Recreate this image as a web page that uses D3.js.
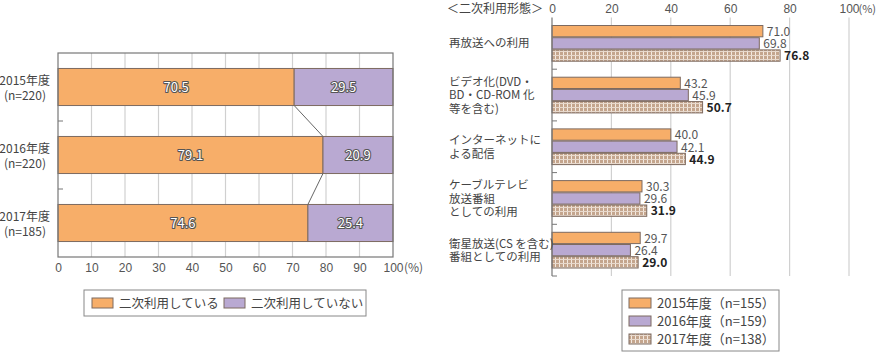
<!DOCTYPE html>
<html>
<head>
<meta charset="utf-8">
<script src="https://cdn.jsdelivr.net/npm/d3@7"></script>
<style>
  body { margin: 0; background: #fff; }
  svg { font-family: "Noto Sans CJK JP", "Noto Sans", sans-serif; }
  .tick text { fill: #555; font-size: 12px; }
</style>
</head>
<body>
<svg id="chart" width="877" height="352"></svg>
<script>
// left chart data
const years = ["2015年度", "2016年度", "2017年度"];
const yearN = ["(n=220)", "(n=220)", "(n=185)"];
const usedVals = [70.5, 79.1, 74.6];
const notUsedVals = [29.5, 20.9, 25.4];
const leftLegend = ["二次利用している", "二次利用していない"];

// right chart data
const usages = [
    ["再放送への利用"],
    ["ビデオ化(DVD・", "BD・CD-ROM 化", "等を含む)"],
    ["インターネットに", "よる配信"],
    ["ケーブルテレビ", "放送番組", "としての利用"],
    ["衛星放送(CS を含む)", "番組としての利用"]
];
const vals2015 = [71.0, 43.2, 40.0, 30.3, 29.7];
const vals2016 = [69.8, 45.9, 42.1, 29.6, 26.4];
const vals2017 = [76.8, 50.7, 44.9, 31.9, 29.0];
const rightLegend = ["2015年度（n=155）", "2016年度（n=159）", "2017年度（n=138）"];

const orange = "#f7ae69", purple = "#b9a9d2", barStroke = "#7d6a60";
const svg = d3.select("#chart");

// pattern for 2017 bars
let defs = svg.append("defs");
let pat = defs.append("pattern")
    .attr("id", "check").attr("patternUnits", "userSpaceOnUse")
    .attr("width", 4).attr("height", 4);
pat.append("rect").attr("width", 4).attr("height", 4).attr("fill", "#c4a58d");
pat.append("rect").attr("x", 3).attr("width", 1).attr("height", 4).attr("fill", "#f3e9e0");
pat.append("rect").attr("y", 3).attr("width", 4).attr("height", 1).attr("fill", "#e8d9cc");

/* ---------- left chart ---------- */
let L = {x0: 58, x1: 393, y0: 53, y1: 257};
let xL = d3.scaleLinear().domain([0, 100]).range([L.x0, L.x1]);
let yL = d3.scaleBand().domain(years).range([L.y0, L.y1]).padding(0);
let barH = yL.bandwidth() * 0.545;
let barY = d => yL(d) + (yL.bandwidth() - barH) / 2;

let left = svg.append("g").attr("id", "left_chart");

// vertical grid
left.append("g").selectAll("line")
    .data(d3.range(10, 100, 10))
    .join("line")
    .attr("x1", d => xL(d)).attr("x2", d => xL(d))
    .attr("y1", L.y0).attr("y2", L.y1)
    .attr("stroke", "#d0d0d0").attr("stroke-width", 1.2);

// bars
let stackData = years.map((y, i) => ({year: y, used: usedVals[i], not: notUsedVals[i]}));
left.append("g").selectAll("rect")
    .data(stackData)
    .join("rect")
    .attr("x", xL(0)).attr("y", d => barY(d.year))
    .attr("width", d => xL(d.used) - xL(0)).attr("height", barH)
    .attr("fill", orange).attr("stroke", barStroke).attr("stroke-width", 1);
left.append("g").selectAll("rect")
    .data(stackData)
    .join("rect")
    .attr("x", d => xL(d.used)).attr("y", d => barY(d.year))
    .attr("width", d => xL(d.used + d.not) - xL(d.used)).attr("height", barH)
    .attr("fill", purple).attr("stroke", barStroke).attr("stroke-width", 1);

// connector lines between bars
left.append("g").selectAll("line")
    .data(d3.range(stackData.length - 1))
    .join("line")
    .attr("x1", i => xL(stackData[i].used)).attr("y1", i => barY(years[i]) + barH)
    .attr("x2", i => xL(stackData[i + 1].used)).attr("y2", i => barY(years[i + 1]))
    .attr("stroke", "#666").attr("stroke-width", 1);

// labels inside bars (white with dark halo)
function haloText(sel) {
    sel.attr("fill", "#fff").attr("stroke", "#555").attr("stroke-width", 2.2)
        .attr("paint-order", "stroke").attr("stroke-linejoin", "round")
        .attr("font-size", 13).attr("text-anchor", "middle").attr("dy", "0.36em");
}
left.append("g").selectAll("text")
    .data(stackData)
    .join("text")
    .attr("x", d => xL(d.used / 2)).attr("y", d => barY(d.year) + barH / 2)
    .text(d => d.used.toFixed(1)).call(haloText);
left.append("g").selectAll("text")
    .data(stackData)
    .join("text")
    .attr("x", d => xL(d.used + d.not / 2)).attr("y", d => barY(d.year) + barH / 2)
    .text(d => d.not.toFixed(1)).call(haloText);

// frame
left.append("rect")
    .attr("x", L.x0).attr("y", L.y0).attr("width", L.x1 - L.x0).attr("height", L.y1 - L.y0)
    .attr("fill", "none").attr("stroke", "#777").attr("stroke-width", 1.2);

// category boundary ticks
left.append("g").selectAll("line")
    .data(years.slice(1))
    .join("line")
    .attr("x1", L.x0).attr("x2", L.x0 + 5)
    .attr("y1", d => yL(d)).attr("y2", d => yL(d))
    .attr("stroke", "#777");

// x axis
let axL = left.append("g").attr("transform", `translate(0,${L.y1})`)
    .call(d3.axisBottom(xL).tickValues(d3.range(0, 101, 10)).tickSize(0).tickPadding(6)
        .tickFormat(d => d));
axL.select(".domain").remove();
axL.selectAll(".tick text").attr("font-size", 12);
left.append("text").attr("x", L.x1 + 11).attr("y", L.y1 + 6).attr("dy", "0.71em")
    .attr("font-size", 12).attr("fill", "#555").text("(%)");

// year labels
let yLab = left.append("g").selectAll("text")
    .data(years)
    .join("text")
    .attr("text-anchor", "end").attr("font-size", 12).attr("fill", "#444");
yLab.append("tspan").attr("x", 50).attr("y", d => yL(d) + yL.bandwidth() / 2 - 2).text(d => d);
yLab.append("tspan").attr("x", 46).attr("y", d => yL(d) + yL.bandwidth() / 2 + 13)
    .text((d, i) => yearN[i]);

// left legend
let lg = left.append("g");
lg.append("rect").attr("x", 84).attr("y", 290).attr("width", 282).attr("height", 26)
    .attr("fill", "#fff").attr("stroke", "#888");
let lgItems = [{x: 92, c: orange}, {x: 224, c: purple}];
lg.selectAll(".sw").data(leftLegend).join("rect").attr("class", "sw")
    .attr("x", (d, i) => lgItems[i].x).attr("y", 298).attr("width", 21).attr("height", 10)
    .attr("fill", (d, i) => lgItems[i].c).attr("stroke", barStroke);
lg.selectAll(".lt").data(leftLegend).join("text").attr("class", "lt")
    .attr("x", (d, i) => lgItems[i].x + 27).attr("y", 303).attr("dy", "0.36em")
    .attr("font-size", 12.5).attr("fill", "#444").text(d => d);

/* ---------- right chart ---------- */
let R = {x0: 552, x1: 849, y0: 17.5, y1: 276};
let xR = d3.scaleLinear().domain([0, 100]).range([R.x0, R.x1]);
let yR = d3.scaleBand().domain(d3.range(usages.length)).range([R.y0, R.y1]).padding(0);
let subH = 11.3, subGap = 0.9;
let groupH = subH * 3 + subGap * 2;

let right = svg.append("g").attr("id", "right_chart");

right.append("g").selectAll("line")
    .data(d3.range(20, 101, 20))
    .join("line")
    .attr("x1", d => xR(d)).attr("x2", d => xR(d))
    .attr("y1", R.y0).attr("y2", R.y1)
    .attr("stroke", "#d0d0d0").attr("stroke-width", 1.2);

let series = [
    {vals: vals2015, fill: orange, color: "#555", weight: "normal"},
    {vals: vals2016, fill: purple, color: "#555", weight: "normal"},
    {vals: vals2017, fill: "url(#check)", color: "#222", weight: "bold"}
];
series.forEach((s, k) => {
    let g = right.append("g");
    let yOf = i => yR(i) + (yR.bandwidth() - groupH) / 2 + k * (subH + subGap);
    g.selectAll("rect")
        .data(s.vals)
        .join("rect")
        .attr("x", xR(0)).attr("y", (d, i) => yOf(i))
        .attr("width", d => xR(d) - xR(0)).attr("height", subH)
        .attr("fill", s.fill).attr("stroke", barStroke).attr("stroke-width", 1);
    g.selectAll("text")
        .data(s.vals)
        .join("text")
        .attr("x", d => xR(d) + 4).attr("y", (d, i) => yOf(i) + subH / 2 + 0.5)
        .attr("dy", "0.36em").attr("font-size", 12)
        .attr("fill", s.color).attr("font-weight", s.weight)
        .text(d => d.toFixed(1));
});

// left axis line + boundary ticks
right.append("line").attr("x1", R.x0).attr("x2", R.x0).attr("y1", R.y0).attr("y2", R.y1)
    .attr("stroke", "#777").attr("stroke-width", 1.2);
right.append("g").selectAll("line")
    .data(d3.range(1, usages.length + 1))
    .join("line")
    .attr("x1", R.x0).attr("x2", R.x0 + 5)
    .attr("y1", i => i < usages.length ? yR(i) : R.y1).attr("y2", i => i < usages.length ? yR(i) : R.y1)
    .attr("stroke", "#777");

// top axis
let axR = right.append("g").attr("transform", `translate(0,${R.y0})`)
    .call(d3.axisTop(xR).tickValues(d3.range(0, 101, 20)).tickSize(0).tickPadding(5));
axR.select(".domain").remove();
axR.selectAll(".tick text").attr("font-size", 12);
right.append("text").attr("x", R.x1 + 9.5).attr("y", R.y0 - 5)
    .attr("font-size", 11).attr("fill", "#555").text("(%)");
right.append("text").attr("x", 447).attr("y", R.y0 - 5)
    .attr("font-size", 12).attr("fill", "#444").text("＜二次利用形態＞");

// category labels
right.append("g").selectAll("text")
    .data(usages)
    .join("text")
    .attr("font-size", 11.5).attr("fill", "#444")
    .each(function(lines, i) {
        let cy = yR(i) + yR.bandwidth() / 2;
        let lh = 13.5;
        d3.select(this).selectAll("tspan")
            .data(lines)
            .join("tspan")
            .attr("x", 449)
            .attr("y", (d, j) => cy + (j - (lines.length - 1) / 2) * lh)
            .attr("dy", "0.36em")
            .text(d => d);
    });

// right legend
let rg = right.append("g");
rg.append("rect").attr("x", 622).attr("y", 290).attr("width", 157).attr("height", 61)
    .attr("fill", "#fff").attr("stroke", "#888");
let swFills = [orange, purple, "url(#check)"];
rg.selectAll(".sw").data(rightLegend).join("rect").attr("class", "sw")
    .attr("x", 629).attr("y", (d, i) => 298 + i * 18).attr("width", 22).attr("height", 10)
    .attr("fill", (d, i) => swFills[i]).attr("stroke", barStroke);
rg.selectAll(".lt").data(rightLegend).join("text").attr("class", "lt")
    .attr("x", 657).attr("y", (d, i) => 303 + i * 18).attr("dy", "0.36em")
    .attr("font-size", 13).attr("fill", "#444").text(d => d);
</script>
</body>
</html>
